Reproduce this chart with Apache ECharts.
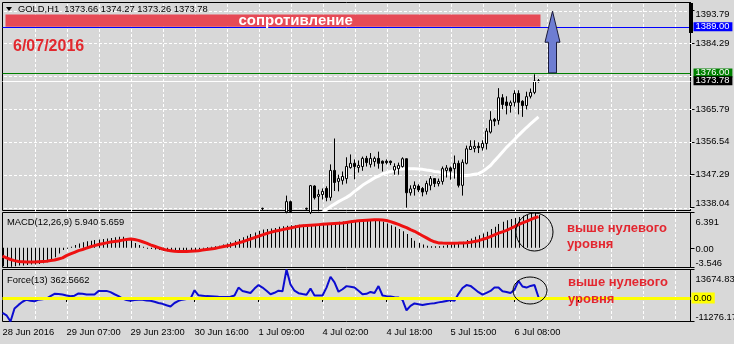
<!DOCTYPE html>
<html><head><meta charset="utf-8">
<script src="https://cdn.jsdelivr.net/npm/echarts@6/dist/echarts.min.js"></script>
<style>html,body{margin:0;padding:0;background:#d8d8d8;}#c{width:734px;height:344px;}</style>
</head><body><div id="c"></div>
<script>
// ---------- data ----------
const tickLabels = ['28 Jun 2016','29 Jun 07:00','29 Jun 23:00','30 Jun 16:00','1 Jul 09:00','4 Jul 02:00','4 Jul 18:00','5 Jul 15:00','6 Jul 08:00'];
const barCount = 173;                 // slots on the time axis (incl. right shift)
const priceTicks = [1338.04,1347.29,1356.54,1365.79,1384.29,1393.79];
const priceGridLevels = [1338.04,1347.29,1356.54,1365.79,1375.04,1384.29,1393.54];
const timeGridBars = [8,16,24,32,40,48,56,64,72,80,88,96,104,112,120,128,136,144,152,160,168];
const priceMin = 1337.2, priceMax = 1395.85;
const macdTicks = [-3.546, 0, 6.391];
const forceTicks = [-11276.17, 13674.83];
const resistanceLevel = 1389.00;
const resistanceTop = 1392.45;
const supportLevel = 1376.00;
const lastPrice = 1373.78;
const arrowBar = 137, arrowHeadBase = 1384.65, arrowTip = 1393.4;
const resStartBar = 1, resEndBar = 134, resTextBar = 59;

// candles [open, close, low, high] starting at bar 65 (earlier bars are below the visible price range)
const candleStart = 65;
const candles = [
 [1337.7,1337.8,1337.3,1338.0], null, null, null, null, null,
 [1336.8,1339.7,1336.4,1341.4],[1339.7,1336.9,1336.5,1340.0], null, null, null,
 [1337.6,1337.8,1337.3,1338.0],[1336.6,1344.2,1336.2,1344.4],[1344.1,1340.8,1340.3,1344.3],
 [1341.2,1341.7,1337.0,1343.1],[1341.7,1342.6,1340.3,1343.4],[1343.4,1340.9,1339.8,1344.0],
 [1340.9,1348.5,1340.0,1350.2],[1348.5,1345.1,1342.7,1357.5],[1345.4,1346.2,1342.6,1347.3],
 [1345.7,1346.8,1344.5,1348.2],[1346.2,1349.6,1344.8,1352.2],[1349.3,1350.5,1349.0,1353.0],
 [1350.5,1349.6,1346.0,1351.6],[1349.3,1349.9,1347.9,1351.3],[1349.6,1351.9,1348.4,1352.4],
 [1351.9,1350.7,1349.6,1352.6],[1350.2,1351.9,1349.3,1353.4],[1351.0,1351.9,1349.6,1352.4],
 [1351.9,1350.5,1349.0,1353.8],[1351.1,1350.5,1348.2,1351.3],[1351.1,1350.7,1350.2,1351.6],
 [1351.1,1350.7,1350.0,1351.3],[1348.6,1349.6,1347.3,1350.5],[1349.0,1349.9,1347.3,1350.7],
 [1349.6,1351.8,1349.3,1352.2],[1351.8,1342.2,1338.0,1351.9],[1342.2,1343.3,1341.4,1344.3],
 [1343.4,1344.3,1341.4,1345.4],[1344.1,1343.0,1342.4,1344.6],[1343.4,1342.4,1341.2,1343.8],
 [1342.6,1344.8,1341.7,1345.6],[1344.3,1346.2,1342.9,1346.9],[1346.2,1344.8,1343.8,1346.2],
 [1344.8,1345.4,1344.0,1346.2],[1345.4,1349.0,1344.5,1349.6],[1348.5,1349.2,1346.5,1350.0],
 [1349.2,1348.3,1345.9,1349.6],[1349.0,1350.5,1346.2,1352.7],[1350.5,1344.3,1343.7,1351.3],
 [1344.3,1350.8,1341.4,1351.6],[1350.5,1354.6,1350.2,1355.5],[1354.4,1355.3,1354.4,1357.0],
 [1354.7,1355.3,1353.6,1357.0],[1355.3,1354.9,1353.4,1356.4],[1354.9,1356.1,1354.1,1357.0],
 [1356.1,1359.6,1354.4,1360.4],[1359.3,1362.7,1358.9,1365.2],[1362.9,1362.4,1361.0,1363.3],
 [1362.6,1369.0,1361.4,1371.7],[1369.0,1367.1,1365.8,1370.0],[1367.8,1366.8,1364.3,1369.4],
 [1366.8,1367.6,1364.8,1368.2],[1367.7,1370.2,1366.5,1371.1],[1370.2,1367.7,1364.3,1371.1],
 [1368.0,1366.8,1363.6,1368.3],[1366.8,1369.3,1365.7,1370.7],[1369.4,1370.5,1368.8,1371.6],
 [1370.5,1373.7,1370.0,1375.6],[1373.66,1373.78,1373.26,1374.27]
];
// white moving average, starting at bar 78
const maStart = 78;
const maValues = [1335.6,1336.1,1336.7,1337.5,1338.3,1339.0,1339.7,1340.3,1340.9,1341.6,
 1342.6,1343.4,1344.3,1345.0,1345.7,1346.4,1346.9,1347.5,1347.9,1348.2,
 1348.5,1348.8,1348.9,1349.0,1349.0,1349.0,1348.9,1348.8,1348.6,1348.5,
 1348.2,1348.1,1347.8,1347.5,1347.4,1347.2,1347.1,1347.1,1347.1,1347.2,
 1347.4,1347.6,1348.2,1349.0,1349.9,1351.2,1352.4,1353.7,1355.0,1356.1,
 1357.2,1358.4,1359.5,1360.6,1361.6,1362.6,1363.6];
const macdHist = [-3.3,-3.546,-3.4,-3.3,-3.2,-3.2,-3.1,-3.0,-3.0,-2.9,
 -2.8,-2.6,-2.2,-1.7,-1.0,-0.4,-0.1,0.2,0.5,0.8,
 1.0,1.2,1.3,1.4,1.5,1.6,1.7,1.8,1.9,2.0,
 2.0,1.8,1.4,0.9,0.5,0.2,0.0,-0.2,-0.3,-0.4,
 -0.5,-0.6,-0.7,-0.7,-0.7,-0.7,-0.6,-0.5,-0.4,-0.2,
 0.0,0.1,0.2,0.3,0.4,0.6,0.8,1.0,1.3,1.6,
 1.9,2.2,2.5,2.8,3.1,3.3,3.4,3.5,3.6,3.8,
 3.9,4.0,4.1,4.1,4.2,4.2,4.2,4.3,4.3,4.3,
 4.35,4.4,4.5,4.6,4.7,4.75,4.8,4.9,5.0,5.05,
 5.1,5.15,5.15,5.1,4.9,4.7,4.4,4.1,3.8,3.4,
 3.0,2.5,1.8,1.3,0.9,0.6,0.4,0.3,0.3,0.3,
 0.4,0.5,0.6,0.8,0.9,1.1,1.4,1.7,2.0,2.3,
 2.6,2.9,3.4,3.8,4.3,4.7,5.0,5.2,5.4,5.6,
 5.8,6.0,6.3,6.391,5.94];
const macdSignal = [-1.5,-1.8,-2.1,-2.3,-2.45,-2.5,-2.55,-2.55,-2.55,-2.5,
 -2.45,-2.4,-2.3,-2.2,-2.0,-1.8,-1.4,-1.1,-0.8,-0.5,
 -0.3,-0.05,0.2,0.4,0.6,0.75,0.9,1.05,1.15,1.25,
 1.4,1.5,1.6,1.5,1.35,1.1,0.85,0.55,0.3,0.05,
 -0.2,-0.4,-0.5,-0.6,-0.65,-0.65,-0.65,-0.6,-0.55,-0.5,
 -0.4,-0.3,-0.2,-0.1,0.05,0.2,0.35,0.5,0.7,0.9,
 1.1,1.35,1.6,1.85,2.1,2.35,2.6,2.8,3.0,3.15,
 3.3,3.45,3.6,3.75,3.9,4.0,4.05,4.1,4.15,4.2,
 4.25,4.3,4.35,4.4,4.45,4.5,4.6,4.7,4.8,4.9,
 4.95,5.0,5.05,5.1,5.1,5.05,4.95,4.75,4.5,4.25,
 3.95,3.65,3.3,3.0,2.6,2.2,1.8,1.4,1.1,0.9,
 0.86,0.85,0.85,0.85,0.86,0.88,0.92,1.0,1.15,1.3,
 1.55,1.75,2.05,2.35,2.65,2.9,3.15,3.5,3.85,4.2,
 4.5,4.8,5.1,5.4,5.659];
const forceValues = [-7100,-8300,-11276.17,-5000,-3300,-1800,-800,-1300,-1600,-800,
 -600,-300,900,2000,1900,1700,1200,850,1100,2200,
 2000,1700,1700,1700,3300,3400,3400,2800,1800,900,
 -300,-1000,-1300,-1000,-800,-900,-1200,-1300,-1800,-2400,
 -2800,-3500,-4100,-2400,-1400,-800,-500,-300,3700,1300,
 1100,900,850,700,550,530,530,600,1200,5000,
 3400,2900,2400,4500,6200,5000,3500,1800,2500,3500,
 3200,13674.83,6500,3500,2300,1900,1550,4500,1200,1200,
 1200,5000,10200,7500,3000,4200,5700,5400,5000,3500,
 1800,2000,2900,2400,5700,1200,900,700,400,200,
 -950,-5900,-3800,-2600,-3000,-3400,-3000,-2700,-2500,-2100,
 -1800,-1400,-1000,-1300,2000,4800,6200,5800,4300,2800,
 1600,2500,3400,5000,5000,3200,2900,2400,4000,8200,
 5500,5000,5800,6200,362.57];

// ---------- build ----------
const F = 'Liberation Sans, Arial, sans-serif';
const FS = 9.4;
const categories = Array.from({length: barCount}, (_, i) => String(i));
const candleData = [];
for (let i = 0; i < candleStart + candles.length; i++) candleData.push('-');
candles.forEach((c, i) => { if (c) candleData[candleStart + i] = c; });
const maData = [];
for (let i = 0; i < maStart; i++) maData.push('-');
maValues.forEach(v => maData.push(v));
const yRanges = [[priceMin, priceMax], [macdTicks[0], macdTicks[2]], [forceTicks[0], forceTicks[1]]];

const gridBase = {left: 2.5, right: 43.5, show: true, borderColor: '#000', borderWidth: 1, backgroundColor: 'transparent', containLabel: false, outerBoundsMode: 'none'};
function xAx(gi, showLabels) {
  return {
    gridIndex: gi, type: 'category', data: categories, boundaryGap: false,
    axisLine: {show: showLabels, lineStyle: {color: '#000'}},
    axisTick: {show: showLabels, length: 4, interval: 15, lineStyle: {color: '#000'}},
    axisLabel: {show: showLabels, interval: 15, showMaxLabel: false, align: 'left', margin: 6,
      color: '#000', fontSize: FS, fontFamily: F,
      formatter: (v) => { const i = +v; return i % 16 === 0 && tickLabels[i / 16] ? tickLabels[i / 16] : ''; }},
    splitLine: {show: false}
  };
}
const rich = {
  t: {fontSize: FS, fontFamily: F, color: '#000', padding: [5, 0, 0, 0]},
  z: {fontSize: FS, fontFamily: F, color: '#000', padding: [3, 0, 0, 0]},
  n: {fontSize: FS, fontFamily: F, color: '#000'}
};
function yAx(gi, min, max, ticks, fmt) {
  return {
    gridIndex: gi, type: 'value', position: 'right', min: min, max: max,
    axisLine: {show: true, lineStyle: {color: '#000'}},
    axisTick: {show: true, length: 4, inside: false, customValues: ticks, lineStyle: {color: '#000'}},
    axisLabel: {show: true, customValues: ticks, formatter: fmt, color: '#000', fontSize: FS, fontFamily: F, margin: 5,
      verticalAlignMinLabel: 'bottom', verticalAlignMaxLabel: 'top', rich: rich},
    splitLine: {show: false}
  };
}
function levelLabel(text, bg, fg) {
  return {show: true, position: 'end', distance: 3, formatter: text, color: fg, backgroundColor: bg,
    padding: [0, 3, 0, 2], lineHeight: 9, fontSize: FS, fontFamily: F};
}
// dotted grid: short 3px white dashes with 2px gaps, extents taken from the axes
function vDashes(gi) {
  const r = yRanges[gi];
  return {
    type: 'custom', xAxisIndex: gi, yAxisIndex: gi, silent: true, z: 2, clip: false,
    data: timeGridBars.map(b => [b, r[0], r[1]]),
    renderItem: (params, api) => {
      const pb = api.coord([api.value(0), api.value(1)]);
      const pt = api.coord([api.value(0), api.value(2)]);
      const x = Math.round(pb[0]);
      const y0 = Math.min(pb[1], pt[1]), y1 = Math.max(pb[1], pt[1]);
      const kids = [];
      for (let y = Math.round(y0) + 1; y < y1 - 1; y += 5) {
        kids.push({type: 'rect', shape: {x: x, y: y, width: 1, height: 3}, style: {fill: '#ffffff'}});
      }
      return {type: 'group', children: kids};
    }
  };
}
const hDashes = {
  type: 'custom', xAxisIndex: 0, yAxisIndex: 0, silent: true, z: 2, clip: false,
  data: priceGridLevels.map(v => [0, v, barCount - 1]),
  renderItem: (params, api) => {
    const pl = api.coord([api.value(0), api.value(1)]);
    const pr = api.coord([api.value(2), api.value(1)]);
    const y = Math.round(pl[1]);
    const kids = [];
    for (let x = Math.round(pl[0]) + 1; x < pr[0] - 1; x += 5) {
      kids.push({type: 'rect', shape: {x: x, y: y, width: 3, height: 1}, style: {fill: '#ffffff'}});
    }
    return {type: 'group', children: kids};
  }
};

const chart = echarts.init(document.getElementById('c'), null, {renderer: 'canvas'});
chart.setOption({
  animation: false,
  backgroundColor: '#d8d8d8',
  textStyle: {fontFamily: F},
  grid: [
    Object.assign({top: 2.5, height: 208}, gridBase),
    Object.assign({top: 212.5, height: 55}, gridBase),
    Object.assign({top: 269.5, height: 52}, gridBase)
  ],
  xAxis: [xAx(0, false), xAx(1, false), xAx(2, true)],
  yAxis: [
    yAx(0, priceMin, priceMax, priceTicks, v => v.toFixed(2)),
    yAx(1, macdTicks[0], macdTicks[2], macdTicks, v => v === 0 ? '{z|0.00}' : (v > 0 ? '{t|' + v.toFixed(3) + '}' : '{n|' + v.toFixed(3) + '}')),
    yAx(2, forceTicks[0], forceTicks[1], forceTicks, v => v > 0 ? '{t|' + v.toFixed(2) + '}' : '{n|' + v.toFixed(2) + '}')
  ],
  series: [
    vDashes(0), vDashes(1), vDashes(2), hDashes,
    {
      type: 'line', xAxisIndex: 0, yAxisIndex: 0, data: maData, symbol: 'none', silent: true, z: 2,
      lineStyle: {color: '#ffffff', width: 3}
    },
    {
      type: 'candlestick', xAxisIndex: 0, yAxisIndex: 0, data: candleData, barWidth: 3, silent: true, z: 3,
      itemStyle: {color: '#ffffff', color0: '#000000', borderColor: '#000000', borderColor0: '#000000', borderWidth: 1},
      markLine: {silent: true, symbol: 'none', animation: false,
        data: [
          {yAxis: resistanceLevel, lineStyle: {color: '#0000ff', type: 'solid', width: 1}, label: levelLabel('1389.00', '#0000ff', '#ffffff')},
          {yAxis: supportLevel, lineStyle: {color: '#008000', type: 'solid', width: 1}, label: levelLabel('1376.00', '#008000', '#ffffff')},
          {yAxis: lastPrice, lineStyle: {color: '#ffffff', type: 'solid', width: 1}, label: levelLabel('1373.78', '#000000', '#ffffff')}
        ]}
    },
    { // resistance zone
      type: 'custom', xAxisIndex: 0, yAxisIndex: 0, silent: true, z: 6, clip: true,
      data: [[resStartBar, resEndBar, resistanceLevel, resistanceTop, resTextBar]],
      renderItem: (params, api) => {
        const a = api.coord([api.value(0), api.value(3)]);
        const b = api.coord([api.value(1), api.value(2)]);
        const tx = api.coord([api.value(4), api.value(2)])[0];
        const x0 = a[0] - 1, x1 = b[0] + 2;
        return {type: 'group', children: [
          {type: 'rect', shape: {x: x0, y: a[1], width: x1 - x0, height: b[1] - a[1]}, style: {fill: '#e64a56'}},
          {type: 'text', x: tx, y: (a[1] + b[1]) / 2 + 0.5, style: {text: 'сопротивление', fill: '#ffffff',
            font: 'bold 15px ' + F, align: 'left', verticalAlign: 'middle'}}
        ]};
      }
    },
    { // arrow
      type: 'custom', xAxisIndex: 0, yAxisIndex: 0, silent: true, z: 6, clip: false,
      data: [[arrowBar, supportLevel, arrowHeadBase, arrowTip]],
      renderItem: (params, api) => {
        const cx = api.coord([api.value(0), api.value(1)])[0] + 2;
        const yb = api.coord([api.value(0), api.value(1)])[1];
        const yh = api.coord([api.value(0), api.value(2)])[1];
        const yt = api.coord([api.value(0), api.value(3)])[1];
        return {type: 'polygon', shape: {points: [[cx - 4, yb], [cx + 4, yb], [cx + 4, yh], [cx + 7.5, yh], [cx, yt], [cx - 7.5, yh], [cx - 4, yh]]},
          style: {fill: '#6e7dd2', stroke: '#1a1a3a', lineWidth: 1}};
      }
    },
    { // MACD histogram
      type: 'custom', xAxisIndex: 1, yAxisIndex: 1, silent: true, z: 2, clip: true,
      data: macdHist.map((v, i) => [i, v]),
      renderItem: (params, api) => {
        const i = api.value(0), v = api.value(1);
        const p = api.coord([i, v]);
        const z = api.coord([i, 0]);
        return {type: 'rect', shape: {x: Math.round(p[0]), y: Math.min(p[1], z[1]), width: 1, height: Math.max(1, Math.abs(z[1] - p[1]))},
          style: {fill: '#000000'}};
      }
    },
    {
      type: 'line', xAxisIndex: 1, yAxisIndex: 1, data: macdSignal, symbol: 'none', silent: true, z: 3,
      lineStyle: {color: '#ee1111', width: 3}
    },
    {
      type: 'line', xAxisIndex: 2, yAxisIndex: 2, data: forceValues, symbol: 'none', silent: true, z: 2,
      lineStyle: {color: '#0c0cd0', width: 2},
      markLine: {silent: true, symbol: 'none', animation: false,
        data: [{yAxis: 0, lineStyle: {color: '#ffff00', type: 'solid', width: 3}, label: Object.assign(levelLabel('0.00', '#ffff00', '#000000'), {distance: 1, lineHeight: 11})}]}
    }
  ],
  graphic: [
    {type: 'polygon', z: 100, shape: {points: [[6, 7], [12, 7], [9, 11]]}, style: {fill: '#000'}},
    {type: 'text', z: 100, x: 18, y: 9.5, style: {text: 'GOLD,H1  1373.66 1374.27 1373.26 1373.78', fill: '#000', font: FS + 'px ' + F, verticalAlign: 'middle'}},
    {type: 'text', z: 100, x: 13, y: 47, style: {text: '6/07/2016', fill: '#e2282e', font: 'bold 16px ' + F, verticalAlign: 'middle'}},
    {type: 'text', z: 100, x: 7, y: 222, style: {text: 'MACD(12,26,9) 5.940 5.659', fill: '#000', font: FS + 'px ' + F, verticalAlign: 'middle'}},
    {type: 'text', z: 100, x: 7, y: 280, style: {text: 'Force(13) 362.5662', fill: '#000', font: FS + 'px ' + F, verticalAlign: 'middle'}},
    {type: 'text', z: 100, x: 567, y: 228, style: {text: 'выше нулевого', fill: '#e3262f', font: 'bold 13px ' + F, verticalAlign: 'middle'}},
    {type: 'text', z: 100, x: 567, y: 244, style: {text: 'уровня', fill: '#e3262f', font: 'bold 13px ' + F, verticalAlign: 'middle'}},
    {type: 'text', z: 100, x: 568, y: 282, style: {text: 'выше нулевого', fill: '#e3262f', font: 'bold 13px ' + F, verticalAlign: 'middle'}},
    {type: 'text', z: 100, x: 568, y: 299, style: {text: 'уровня', fill: '#e3262f', font: 'bold 13px ' + F, verticalAlign: 'middle'}},
    {type: 'ellipse', z: 100, shape: {cx: 534.5, cy: 232, rx: 18.5, ry: 19}, style: {fill: 'none', stroke: '#000', lineWidth: 1}},
    {type: 'ellipse', z: 100, shape: {cx: 530, cy: 290.5, rx: 17, ry: 13.5}, style: {fill: 'none', stroke: '#000', lineWidth: 1}},
    {type: 'rect', z: 100, shape: {x: 689, y: 3, width: 4, height: 30}, style: {fill: '#000'}}
  ]
});
</script></body></html>
